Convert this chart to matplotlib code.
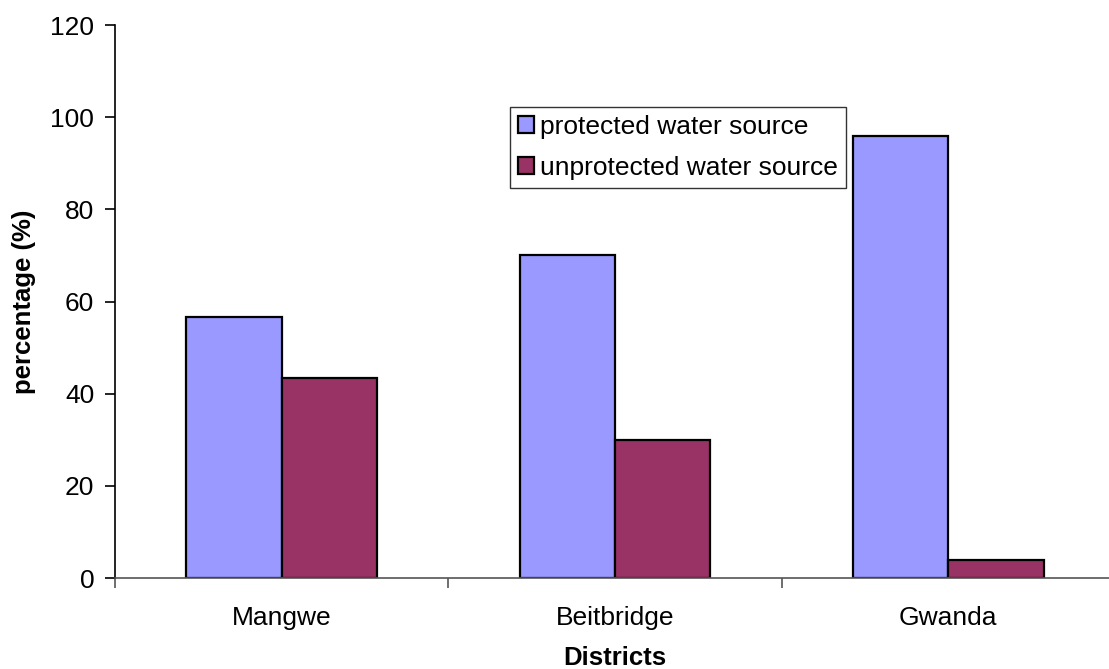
import numpy as np
import matplotlib
matplotlib.use("Agg")
import matplotlib.pyplot as plt

plt.rcParams.update({
    'font.family': ['Liberation Sans', 'DejaVu Sans'],
    'font.size': 19,
})

districts = ['Mangwe', 'Beitbridge', 'Gwanda']
protected = [56.7, 70, 96]
unprotected = [43.3, 30, 4]
series_labels = ['protected water source', 'unprotected water source']

fig = plt.figure(figsize=(11.09, 6.69), dpi=100)
ax = fig.add_axes([0.1037, 0.136, 0.9017, 0.8266])

x = np.arange(len(districts))
w = 1 / 3.5
ax.bar(x - w / 2, protected, w, color='#9999FF', edgecolor='black',
       linewidth=1.6, label=series_labels[0])
ax.bar(x + w / 2, unprotected, w, color='#993366', edgecolor='black',
       linewidth=1.6, label=series_labels[1])

ax.set_xlim(-0.5, len(districts) - 0.5)
ax.set_ylim(0, 120)
ax.set_yticks(range(0, 121, 20))
ax.set_xticks(x)
ax.set_xticklabels(districts)
ax.set_xticks(np.arange(-0.5, len(districts), 1), minor=True)
ax.tick_params(axis='x', which='major', length=0, pad=20)
ax.tick_params(axis='x', which='minor', length=7, width=1.2, color='#555555')
ax.tick_params(axis='y', length=7, width=1.2, pad=8)

for s in ['top', 'right']:
    ax.spines[s].set_visible(False)
ax.spines['left'].set_linewidth(1.2)
ax.spines['bottom'].set_linewidth(1.2)
ax.spines['bottom'].set_color('#555555')

ax.set_ylabel('percentage (%)', fontweight='bold', fontsize=18.5, labelpad=10)
ax.set_xlabel('Districts', fontweight='bold', fontsize=18.5, labelpad=12)

leg = ax.legend(loc='upper left', bbox_to_anchor=(0.395, 0.852),
                frameon=True, fancybox=False, edgecolor='black',
                handlelength=0.6, handleheight=0.6, handletextpad=0.25,
                borderpad=0.3, labelspacing=0.65, borderaxespad=0)
leg.get_frame().set_linewidth(1.0)

fig.savefig('out.png', dpi=100)
